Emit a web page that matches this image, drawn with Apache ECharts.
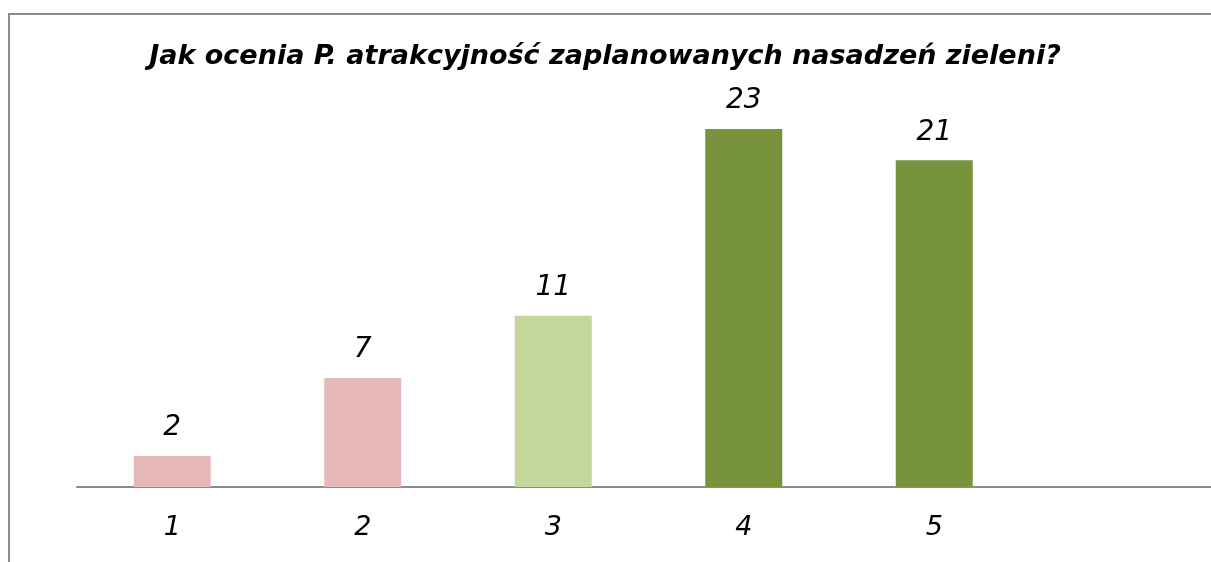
<!DOCTYPE html>
<html>
<head>
<meta charset="utf-8">
<script src="https://cdn.jsdelivr.net/npm/echarts@6/dist/echarts.min.js"></script>
<style>
  html, body { margin: 0; padding: 0; background: #fff; overflow: hidden; }
  /* ramka wykresu: tylko góra i lewa strona widoczne */
  .frame {
    position: absolute; left: 8px; top: 13px; width: 1300px; height: 600px;
    border-top: 2px solid #8c8c8c; border-left: 2px solid #8c8c8c;
  }
  /* płótno szersze od okna: oś wychodzi poza prawą krawędź */
  #chart { position: absolute; left: 0; top: 0; width: 1230px; height: 562px; }
</style>
</head>
<body>
<div class="frame"></div>
<div id="chart"></div>
<script>
// oceny 1-5 (ostatnia pusta kategoria to wolne miejsce na osi)
const categories = ['1', '2', '3', '4', '5', '']
const counts = [2, 7, 11, 23, 21, null]
const barColors = ['#e6b9b8', '#e6b9b8', '#c4d79b', '#77933c', '#77933c', '#77933c']

const chart = echarts.init(document.getElementById('chart'))
chart.setOption({
  backgroundColor: 'transparent',
  animation: false,
  title: {
    text: 'Jak ocenia P. atrakcyjność zaplanowanych nasadzeń zieleni?',
    left: 600,
    textAlign: 'center',
    top: 38,
    textStyle: {
      fontFamily: 'DejaVu Sans',
      fontSize: 27,
      fontWeight: 'bold',
      fontStyle: 'italic',
      color: '#000'
    }
  },
  grid: { left: 77, top: 98, width: 1143, height: 389 },
  xAxis: {
    type: 'category',
    data: categories,
    axisLine: { lineStyle: { color: '#8c8c8c', width: 2 } },
    axisTick: { show: false },
    axisLabel: {
      margin: 27,
      fontFamily: 'DejaVu Sans',
      fontSize: 27,
      fontStyle: 'italic',
      color: '#000'
    }
  },
  yAxis: {
    type: 'value',
    min: 0,
    max: 25,
    show: false,
    splitLine: { show: false }
  },
  series: [{
    type: 'bar',
    barWidth: 77,
    data: counts.map((v, i) => ({ value: v, itemStyle: { color: barColors[i] } })),
    label: {
      show: true,
      position: 'top',
      distance: 14,
      fontFamily: 'DejaVu Sans',
      fontSize: 28,
      fontStyle: 'italic',
      color: '#000'
    }
  }]
})
</script>
</body>
</html>
